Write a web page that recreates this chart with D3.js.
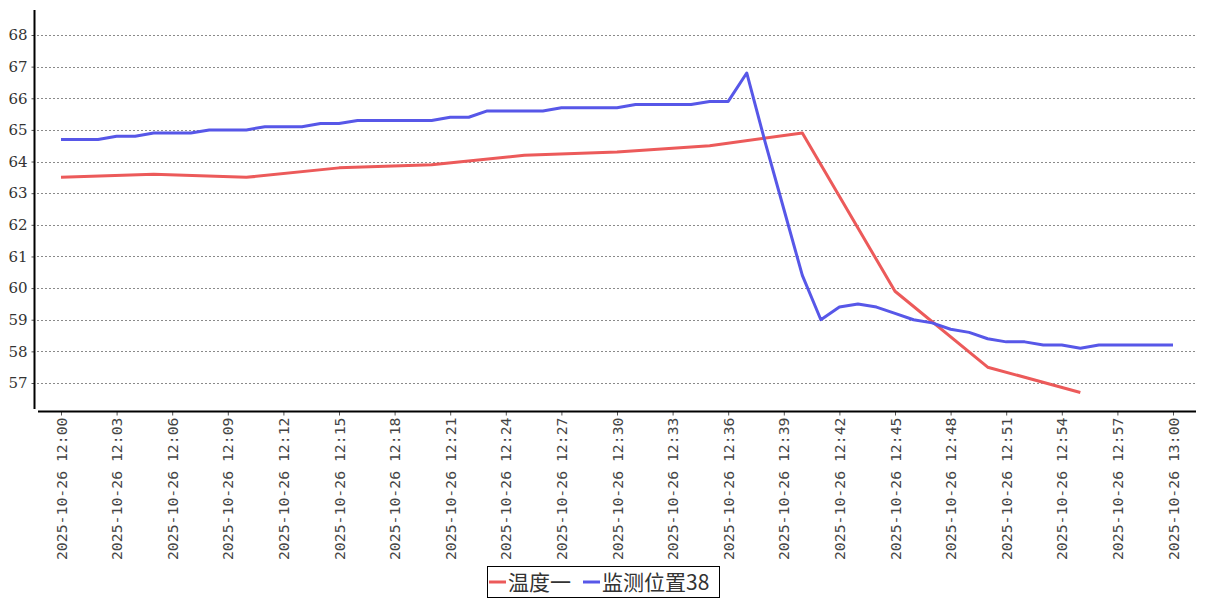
<!DOCTYPE html>
<html><head><meta charset="utf-8">
<script src="https://cdn.jsdelivr.net/npm/d3@7"></script>
<style>body{margin:0;background:#fff}svg{display:block}</style>
</head><body>
<svg id="c" width="1207" height="600"></svg>
<script>
const seriesNames = ["温度一", "监测位置38"];
const seriesColors = ["#ec5a5a", "#5757e8"];
// 温度一: every 5 minutes from 12:00
const redMinutes = [0,5,10,15,20,25,30,35,40,45,50,55];
const redValues  = [63.5,63.6,63.5,63.8,63.9,64.2,64.3,64.5,64.9,59.9,57.5,56.7];
// 监测位置38: every minute from 12:00
const blueMinutes = d3.range(0,61);
const blueValues = [64.7,64.7,64.7,64.8,64.8,64.9,64.9,64.9,65.0,65.0,
  65.0,65.1,65.1,65.1,65.2,65.2,65.3,65.3,65.3,65.3,
  65.3,65.4,65.4,65.6,65.6,65.6,65.6,65.7,65.7,65.7,
  65.7,65.8,65.8,65.8,65.8,65.9,65.9,66.8,64.6,62.5,
  60.4,59.0,59.4,59.5,59.4,59.2,59.0,58.9,58.7,58.6,
  58.4,58.3,58.3,58.2,58.2,58.1,58.2,58.2,58.2,58.2,58.2];
const yTicks = [57,58,59,60,61,62,63,64,65,66,67,68];
const start = new Date(2025,9,26,12,0);
const end = new Date(2025,9,26,13,0);
const t = m => new Date(start.getTime() + m*60000);

const svg = d3.select("#c");
const x = d3.scaleTime().domain([start,end]).range([61,1173]);
const y = d3.scaleLinear().domain([57,68]).range([383,35]);

// gridlines
svg.append("g").selectAll("line").data(yTicks).join("line")
  .attr("x1",37).attr("x2",1195)
  .attr("y1",d=>Math.round(y(d))+0.5).attr("y2",d=>Math.round(y(d))+0.5)
  .attr("stroke","#8a8a8a").attr("stroke-width",1).attr("stroke-dasharray","2,2");

// y axis
const yAxis = svg.append("g").attr("transform","translate(34.5,0)")
  .call(d3.axisLeft(y).tickValues(yTicks).tickSize(3).tickPadding(4).tickFormat(d3.format("d")));
yAxis.select(".domain").remove();
yAxis.append("line").attr("x1",0).attr("x2",0).attr("y1",10).attr("y2",409)
  .attr("stroke","#000").attr("stroke-width",2);
yAxis.selectAll(".tick line").attr("stroke","#555");
yAxis.selectAll("text").attr("font-family","'DejaVu Serif', serif").attr("font-size",15).attr("fill","#333");

// x axis
const xAxis = svg.append("g").attr("transform","translate(0,411.5)")
  .call(d3.axisBottom(x).ticks(d3.timeMinute.every(3)).tickSize(4)
    .tickFormat(d3.timeFormat("%Y-%m-%d %H:%M")));
xAxis.select(".domain").remove();
xAxis.append("line").attr("x1",38).attr("x2",1196).attr("y1",0).attr("y2",0)
  .attr("stroke","#000").attr("stroke-width",2);
xAxis.selectAll(".tick line").attr("stroke","#555");
xAxis.selectAll("text")
  .attr("font-family","'DejaVu Sans Mono', monospace").attr("font-size",14.8).attr("fill","#444")
  .attr("text-anchor","end").attr("dy","0.35em")
  .attr("transform","translate(0,6) rotate(-90)")
  .attr("x",0).attr("y",0);

// lines
const line = d3.line().x(d=>x(t(d[0]))).y(d=>y(d[1]));
const redData = redMinutes.map((m,i)=>[m,redValues[i]]);
const blueData = blueMinutes.map((m,i)=>[m,blueValues[i]]);
svg.append("path").datum(redData).attr("d",line).attr("fill","none")
  .attr("stroke",seriesColors[0]).attr("stroke-width",3).attr("stroke-linejoin","round");
svg.append("path").datum(blueData).attr("d",line).attr("fill","none")
  .attr("stroke",seriesColors[1]).attr("stroke-width",3).attr("stroke-linejoin","round");

// legend
const lg = svg.append("g");
lg.append("rect").attr("x",487.5).attr("y",566.5).attr("width",232).attr("height",31)
  .attr("fill","#fff").attr("stroke","#000").attr("stroke-width",1);
const items = [{n:seriesNames[0],c:seriesColors[0],x:489},{n:seriesNames[1],c:seriesColors[1],x:583}];
items.forEach(it=>{
  lg.append("line").attr("x1",it.x).attr("x2",it.x+17).attr("y1",582).attr("y2",582)
    .attr("stroke",it.c).attr("stroke-width",3);
  lg.append("text").attr("x",it.x+19).attr("y",590).text(it.n)
    .attr("font-family","'Noto Sans CJK SC', sans-serif").attr("font-size",21).attr("fill","#333");
});
</script>
</body></html>
